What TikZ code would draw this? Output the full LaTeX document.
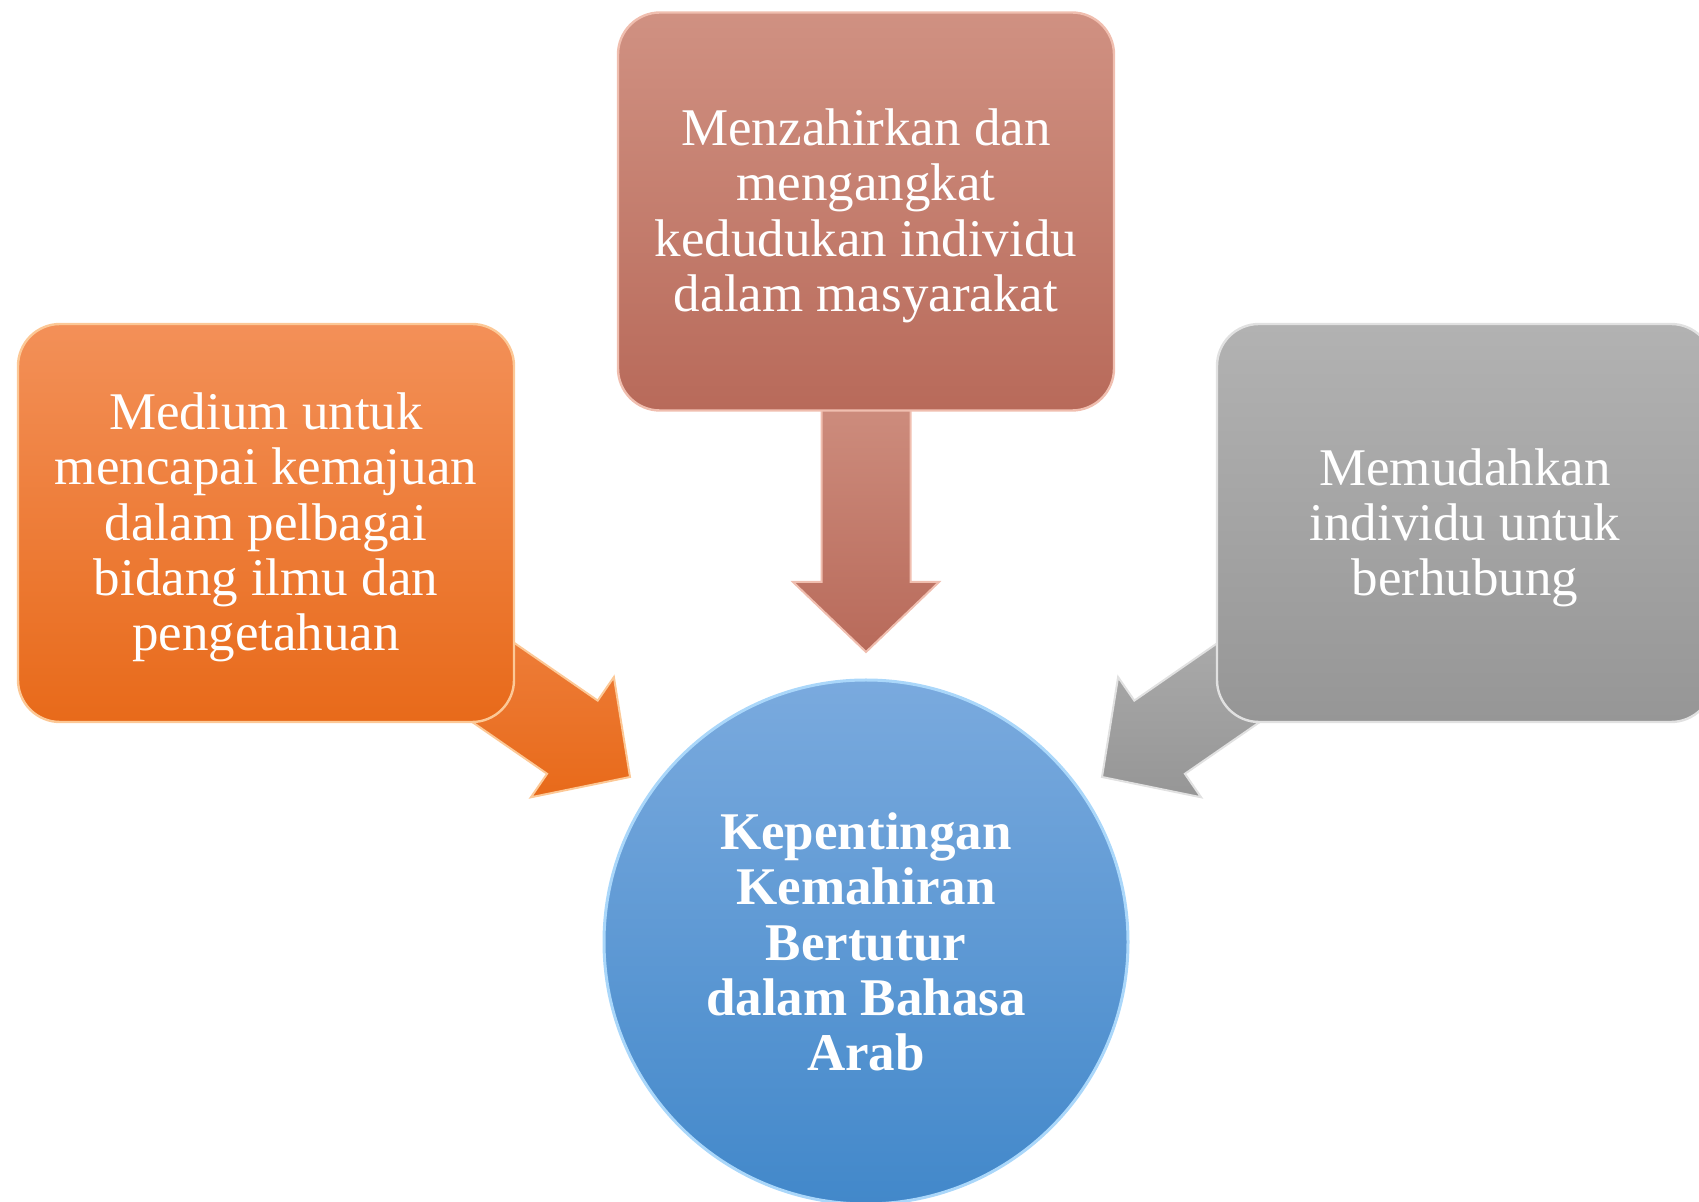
\documentclass[tikz,border=0pt]{standalone}
\usepackage{fontspec}
\setmainfont{Liberation Serif}
\definecolor{rosetop}{RGB}{208,145,130}
\definecolor{rosebot}{RGB}{184,106,90}
\definecolor{roseedge}{RGB}{240,190,175}
\definecolor{orgtop}{RGB}{243,144,88}
\definecolor{orgbot}{RGB}{232,106,26}
\definecolor{orgedge}{RGB}{252,200,150}
\definecolor{graytop}{RGB}{178,178,178}
\definecolor{graybot}{RGB}{150,150,150}
\definecolor{grayedge}{RGB}{225,225,225}
\definecolor{bluetop}{RGB}{122,170,222}
\definecolor{bluebot}{RGB}{66,136,202}
\definecolor{blueedge}{RGB}{170,215,250}
\begin{document}
\begin{tikzpicture}[x=0.5pt,y=-0.5pt,
  txt/.style={text=white, align=center, font=\fontsize{26.5}{27.6}\selectfont},
  box/.style={rounded corners=21pt, minimum width=248pt, minimum height=199pt, inner sep=0pt, line width=1.2pt},
  rosebox/.style={box, top color=rosetop, bottom color=rosebot, draw=roseedge},
  orgbox/.style={box, top color=orgtop, bottom color=orgbot, draw=orgedge},
  graybox/.style={box, top color=graytop, bottom color=graybot, draw=grayedge},
  rosearrow/.style={top color=rosetop!90!rosebot, bottom color=rosebot, draw=roseedge, line width=1pt},
  orgarrow/.style={top color=orgtop!70!orgbot, bottom color=orgbot, draw=orgedge, line width=1pt},
  grayarrow/.style={top color=graytop, bottom color=graybot, draw=grayedge, line width=1pt},
  hub/.style={circle, txt, font=\bfseries\fontsize{26.5}{27.6}\selectfont, minimum size=262pt, inner sep=0pt, top color=bluetop, bottom color=bluebot, draw=blueedge, line width=1.5pt}
]
\useasboundingbox (0,0) rectangle (1699,1202);

% down arrow (top box -> hub)
\coordinate (dT) at (866,652);
\path[rosearrow] (821.5,400) -- (821.5,582) -- (793,582) -- (dT) -- (939,582) -- (910.5,582) -- (910.5,400) -- cycle;

% left arrow (left box -> hub)
\coordinate (lT) at (630,777);
\path[orgarrow] (408.4,569.7) -- (597.7,700.6) -- (613.9,677.1) -- (lT) -- (530.9,797.3) -- (547.1,773.8) -- (357.8,642.9) -- cycle;

% right arrow (right box -> hub)
\coordinate (rT) at (1102,777);
\path[grayarrow] (1323.6,569.7) -- (1134.3,700.6) -- (1118.1,677.1) -- (rT) -- (1201.1,797.3) -- (1184.9,773.8) -- (1374.2,642.9) -- cycle;

\node[rosebox] (top) at (866,211.5) {};
\node[txt] (toptext) at ([yshift=-2.2pt]top.center) {Menzahirkan dan\\mengangkat\\kedudukan individu\\dalam masyarakat};
\node[orgbox] (left) at (266,523) {};
\node[txt] (lefttext) at ([yshift=-2.2pt]left.center) {Medium untuk\\mencapai kemajuan\\dalam pelbagai\\bidang ilmu dan\\pengetahuan};
\node[graybox] (right) at (1465,523) {};
\node[txt] (righttext) at ([yshift=-2.5pt]right.center) {Memudahkan\\individu untuk\\berhubung};

\node[hub] (hub) at (866,942) {Kepentingan\\Kemahiran\\Bertutur\\dalam Bahasa\\Arab};
\end{tikzpicture}
\end{document}
